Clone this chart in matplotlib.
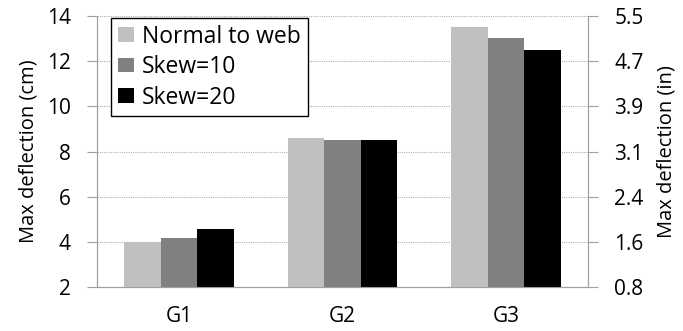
import numpy as np
import matplotlib
matplotlib.use("Agg")
import matplotlib.pyplot as plt

categories = ["G1", "G2", "G3"]
series_names = ["Normal to web", "Skew=10", "Skew=20"]
normal_to_web = [3.99, 8.59, 13.5]
skew_10 = [4.17, 8.52, 13.02]
skew_20 = [4.57, 8.52, 12.5]
left_ticks = [2, 4, 6, 8, 10, 12, 14]
right_tick_labels = ["0.8", "1.6", "2.4", "3.1", "3.9", "4.7", "5.5"]

colors = ["#c0c0c0", "#808080", "#000000"]
plt.rcParams["font.family"] = ["Open Sans", "DejaVu Sans"]
fs_tick = 15
fs_label = 14.5

fig = plt.figure(figsize=(6.83, 3.31), dpi=100)
ax = fig.add_axes([97 / 683, 44 / 331, 491 / 683, 271 / 331])

x = np.arange(len(categories)) + 0.5
width = 0.223
for i, (vals, name) in enumerate(zip([normal_to_web, skew_10, skew_20], series_names)):
    ax.bar(x + (i - 1) * width, np.array(vals) - 2, bottom=2, width=width,
           color=colors[i], label=name, zorder=3)

ax.set_xlim(0, 3)
ax.set_ylim(2, 14)
ax.set_yticks(left_ticks)
ax.set_xticks(x)
ax.set_xticklabels(categories)
ax.grid(axis="y", color="#b0b0b0", linestyle=(0, (1, 1)), linewidth=0.8, zorder=0)
ax.tick_params(axis="x", length=0, labelsize=fs_tick, pad=14)
ax.tick_params(axis="y", length=7, color="#a0a0a0", labelsize=fs_tick, pad=12)
ax.spines["top"].set_visible(False)
for s in ["left", "right", "bottom"]:
    ax.spines[s].set_color("#a0a0a0")
ax.set_ylabel("Max deflection (cm)", fontsize=fs_label, labelpad=6)

ax2 = ax.twinx()
ax2.set_ylim(2, 14)
ax2.set_yticks(left_ticks)
ax2.set_yticklabels(right_tick_labels)
ax2.tick_params(axis="y", length=7, color="#a0a0a0", labelsize=fs_tick, pad=12)
ax2.spines["top"].set_visible(False)
for s in ["left", "right", "bottom"]:
    ax2.spines[s].set_color("#a0a0a0")
ax2.set_ylabel("Max deflection (in)", fontsize=fs_label, labelpad=9)

leg = ax.legend(loc="upper left", bbox_to_anchor=(14 / 491, 0.993), fontsize=16.5,
                frameon=True, fancybox=False, edgecolor="black", framealpha=1,
                handlelength=0.7, handleheight=0.6, handletextpad=0.35,
                labelspacing=0.28, borderpad=0.3, borderaxespad=0)
leg.get_frame().set_linewidth(1.0)

fig.savefig("out.png", dpi=100)
